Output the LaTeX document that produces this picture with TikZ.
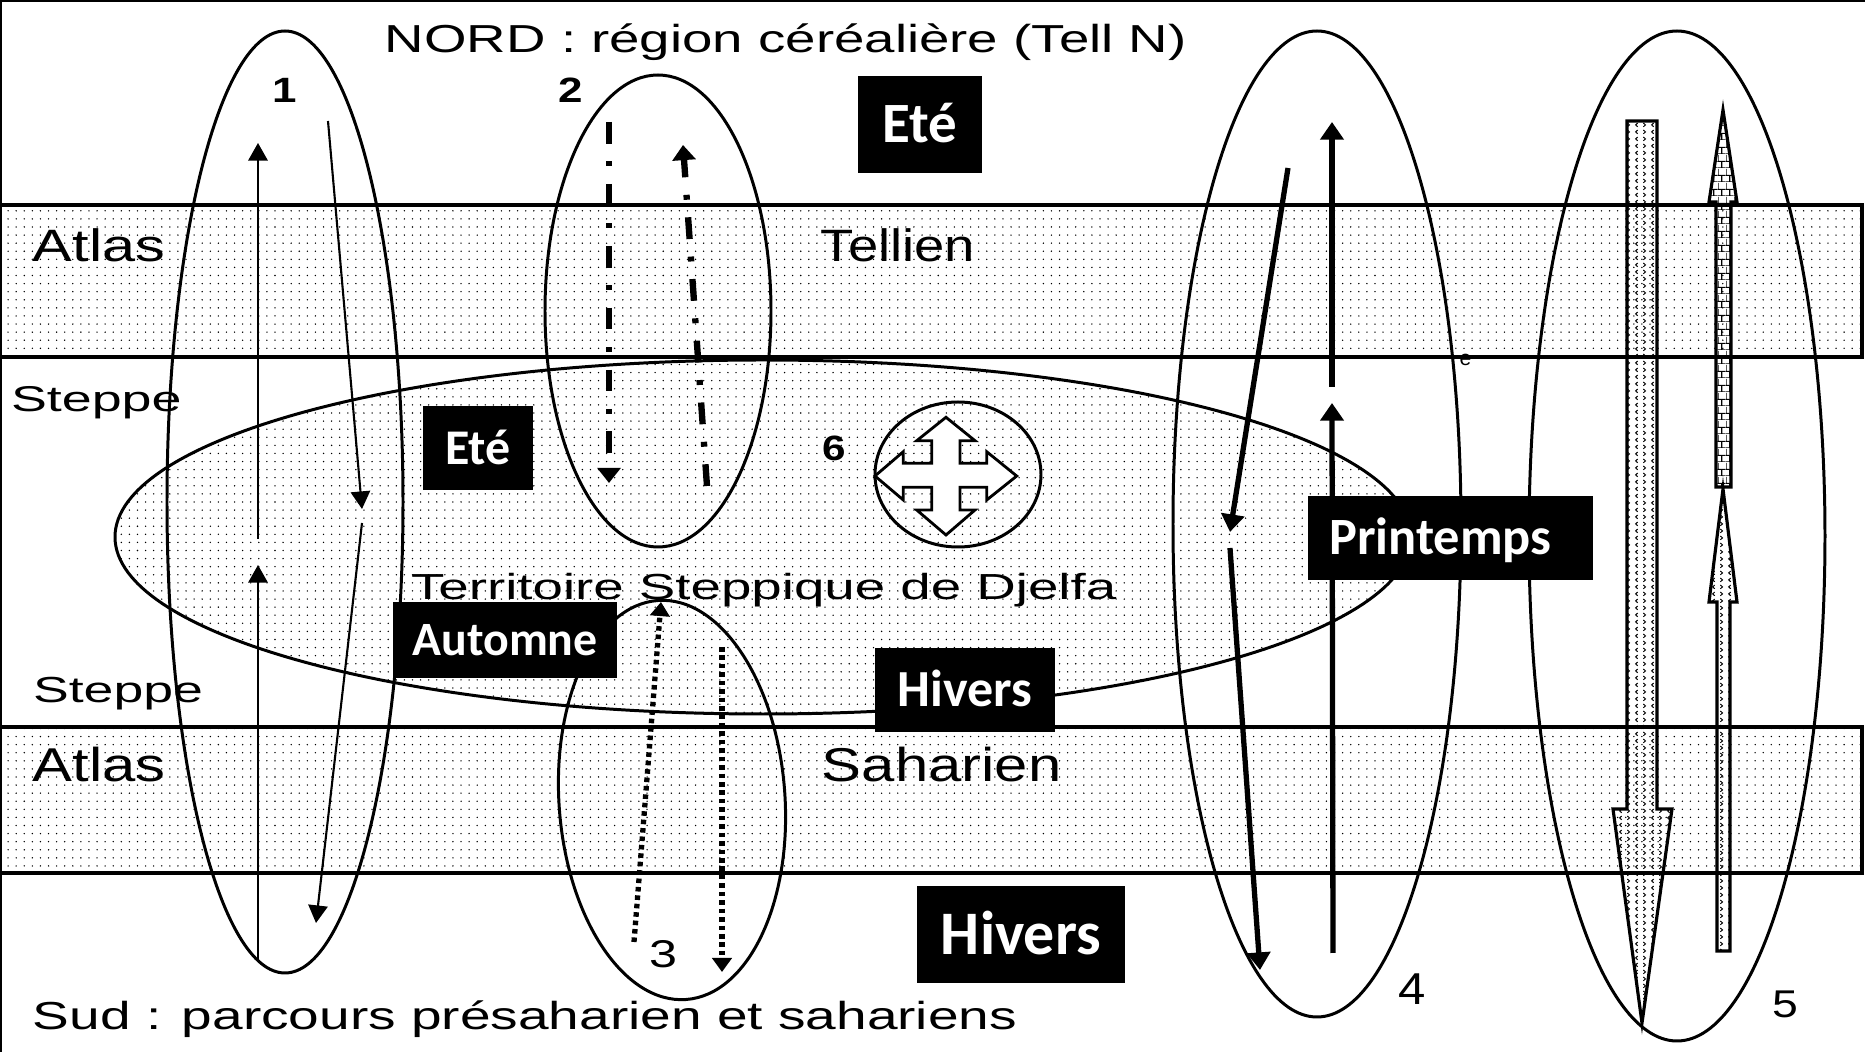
\documentclass[tikz,border=0pt]{standalone}
\usepackage{fontspec}
\setmainfont{Liberation Sans}
\newfontfamily\carlito{Carlito}
\usetikzlibrary{arrows.meta,patterns}
\pgfdeclarepatternformonly{finedots}{\pgfqpoint{-0.5pt}{-0.5pt}}{\pgfqpoint{0.5pt}{0.5pt}}{\pgfqpoint{2.3pt}{2.3pt}}{\pgfpathcircle{\pgfpointorigin}{0.22pt}\pgfusepath{fill}}
\pgfdeclarepatternformonly{chevrons}{\pgfqpoint{0pt}{0pt}}{\pgfqpoint{4.4pt}{2pt}}{\pgfqpoint{4.4pt}{2pt}}{%
  \pgfsetlinewidth{0.3pt}%
  \pgfpathmoveto{\pgfqpoint{0.7pt}{1.6pt}}\pgfpathlineto{\pgfqpoint{1.3pt}{1pt}}\pgfpathlineto{\pgfqpoint{0.7pt}{0.4pt}}%
  \pgfpathmoveto{\pgfqpoint{3.7pt}{1.6pt}}\pgfpathlineto{\pgfqpoint{3.1pt}{1pt}}\pgfpathlineto{\pgfqpoint{3.7pt}{0.4pt}}%
  \pgfusepath{stroke}}
\pgfdeclarepatternformonly{tinybricks}{\pgfqpoint{0pt}{0pt}}{\pgfqpoint{2.2pt}{4pt}}{\pgfqpoint{2.2pt}{4pt}}{%
  \pgfsetlinewidth{0.35pt}%
  \pgfpathmoveto{\pgfqpoint{0pt}{0pt}}\pgfpathlineto{\pgfqpoint{2.2pt}{0pt}}%
  \pgfpathmoveto{\pgfqpoint{0pt}{2pt}}\pgfpathlineto{\pgfqpoint{2.2pt}{2pt}}%
  \pgfpathmoveto{\pgfqpoint{1.1pt}{0pt}}\pgfpathlineto{\pgfqpoint{1.1pt}{2pt}}%
  \pgfpathmoveto{\pgfqpoint{0pt}{2pt}}\pgfpathlineto{\pgfqpoint{0pt}{4pt}}%
  \pgfusepath{stroke}}
\tikzset{bd/.style={draw, line width=0.9pt, pattern=finedots}}
\tikzset{el/.style={draw, line width=0.85pt}}
\tikzset{bx/.style={fill=black, text=white, inner sep=0pt, text depth=0pt, text height={0.644*#1pt}, font=\carlito\bfseries\fontsize{#1}{#1}\selectfont}}
\tikzset{tx/.style={inner sep=0pt, anchor=base west, font=\fontsize{#1}{#1}\selectfont}}
\tikzset{nb/.style={inner sep=0pt, font=\fontsize{#1}{#1}\selectfont}}
\tikzset{a1/.style={line width=0.6pt, -{Triangle[length=5pt,width=5.5pt]}}}
\tikzset{a2/.style={line width=1.8pt, dash pattern=on 6.2pt off 5pt on 1.4pt off 5pt, -{Triangle[length=4.3pt,width=6.5pt]}}}
\tikzset{a3/.style={line width=1.5pt, dash pattern=on 1.3pt off 1.1pt, -{Triangle[length=4pt,width=5.5pt]}}}
\tikzset{a4/.style={line width=1.5pt, -{Triangle[length=5pt,width=6.5pt]}}}
\tikzset{fa/.style={draw, line width=0.9pt, fill=white, pattern=chevrons}}
\begin{document}
\begin{tikzpicture}[x=0.01cm,y=-0.01cm]
\useasboundingbox (0,0) rectangle (1865,1052);
% bands
\draw[bd] (0,205) rectangle (1862,357);
\draw[bd] (0,727) rectangle (1862,873);
\draw[line width=1pt] (0,1052) -- (0,0) -- (1865,0);
% steppe
\draw[el, pattern=finedots] (763,537) ellipse [x radius=648, y radius=177];
\draw[el] (958,474.5) ellipse [x radius=83, y radius=72.5];
\draw[line width=0.8pt, fill=white] (946,417.3) -- (975,440.7) -- (960,440.7) -- (960,463.3) -- (986.7,463.3) -- (986.7,451.7) -- (1016.7,476)
  -- (986.7,500) -- (986.7,487.3) -- (960,487.3) -- (960,510) -- (975,510) -- (946,535) -- (916.7,510) -- (931.7,510)
  -- (931.7,487.3) -- (903.3,487.3) -- (903.3,500) -- (875,476) -- (903.3,451.7) -- (903.3,463.3) -- (931.7,463.3)
  -- (931.7,440.7) -- (916.7,440.7) -- cycle;
% loops
\draw[el] (285,502) ellipse [x radius=118, y radius=471];
\draw[el] (658,311) ellipse [x radius=113, y radius=236];
\draw[el, rotate around={4:(672,800)}] (672,800) ellipse [x radius=113, y radius=200];
\draw[el] (1317,524) ellipse [x radius=144, y radius=493];
\draw[el] (1677,536) ellipse [x radius=148, y radius=505];
% 1
\coordinate (p1a) at (258,960); \coordinate (p1b) at (258,565);
\coordinate (p1c) at (258,539); \coordinate (p1d) at (258,143);
\coordinate (p1e) at (328,121); \coordinate (p1f) at (362,509);
\coordinate (p1g) at (362,523); \coordinate (p1h) at (316,923);
\draw[a1] (p1a) -- (p1b);
\draw[a1] (p1c) -- (p1d);
\draw[a1] (p1e) -- (p1f);
\draw[a1] (p1g) -- (p1h);
% 2
\coordinate (p2a) at (609,122); \coordinate (p2b) at (609,483);
\coordinate (p2c) at (707,486); \coordinate (p2d) at (683,145);
\draw[a2] (p2a) -- (p2b);
\draw[a2] (p2c) -- (p2d);
% 3
\coordinate (p3a) at (634,942); \coordinate (p3b) at (661,602);
\coordinate (p3c) at (722,647); \coordinate (p3d) at (722,972);
\draw[a3] (p3a) -- (p3b);
\draw[a3] (p3c) -- (p3d);
% 4
\coordinate (p4a) at (1288,168); \coordinate (p4b) at (1230,532);
\coordinate (p4c) at (1230,548); \coordinate (p4d) at (1260,970);
\coordinate (p4e) at (1333,953); \coordinate (p4f) at (1332,403);
\coordinate (p4g) at (1332,387); \coordinate (p4h) at (1332,122);
\draw[a4] (p4a) -- (p4b);
\draw[a4] (p4c) -- (p4d);
\draw[a4] (p4e) -- (p4f);
\draw[a4] (p4g) -- (p4h);
% 5
\draw[fa] (1627,121) -- (1657,121) -- (1657,809) -- (1672,809) -- (1642,1023) -- (1613,809) -- (1627,809) -- cycle;
\draw[fa] (1717,951) -- (1717,602) -- (1709,602) -- (1723,489) -- (1737,602) -- (1730,602) -- (1730,951) -- cycle;
\draw[fa, pattern=tinybricks] (1716,487) -- (1716,202) -- (1709,202) -- (1723,110) -- (1737,202) -- (1731,202) -- (1731,487) -- cycle;
% labels
\node[tx=11.1, xscale=1.40] (nord) at (384,53) {NORD : région céréalière (Tell N)};
\node[tx=12.9, xscale=1.31] (atl1) at (32,262) {Atlas};
\node[tx=12.9, xscale=1.20] (tel) at (820,262) {Tellien};
\node[tx=10.2, xscale=1.50] (stp1) at (10,412) {Steppe};
\node[tx=10.3, xscale=1.51] (ter) at (410,600) {Territoire Steppique de Djelfa};
\node[tx=10.3, xscale=1.48] (stp2) at (32,703) {Steppe};
\node[tx=13.5, xscale=1.26] (atl2) at (32,782) {Atlas};
\node[tx=13.5, xscale=1.26] (sah) at (821,782) {Saharien};
\node[tx=11.1, xscale=1.41] (sud) at (32,1030) {Sud : parcours présaharien et sahariens};
\node[tx=6] (ee) at (1459,366) {e};
\node[nb=10.3, font=\bfseries, xscale=1.25] (n1) at (285,90) {1};
\node[nb=10.3, font=\bfseries, xscale=1.25] (n2) at (571,90) {2};
\node[nb=11, xscale=1.3] (n3) at (663,954) {3};
\node[nb=12.7, xscale=1.1] (n4) at (1412,989) {4};
\node[nb=11, xscale=1.2] (n5) at (1785,1004) {5};
\node[nb=10.7, font=\bfseries, xscale=1.2] (n6) at (834,448) {6};
% seasons
\node[bx=16.2, minimum width=1.24cm, minimum height=0.97cm] (ete1) at (920,124.5) {Eté};
\node[bx=14.2, minimum width=1.10cm, minimum height=0.84cm] (ete2) at (478,448) {Eté};
\node[bx=13.6, minimum width=2.24cm, minimum height=0.76cm] (aut) at (505,640) {Automne};
\node[bx=14.8, minimum width=1.80cm, minimum height=0.84cm] (hiv1) at (965,690) {Hivers};
\node[bx=14.9, minimum width=2.85cm, minimum height=0.84cm] (pri) at (1450.5,538) {Printemps\kern0.2cm};
\node[bx=17.6, minimum width=2.08cm, minimum height=0.97cm] (hiv2) at (1021,934.5) {Hivers};
\end{tikzpicture}
\end{document}
